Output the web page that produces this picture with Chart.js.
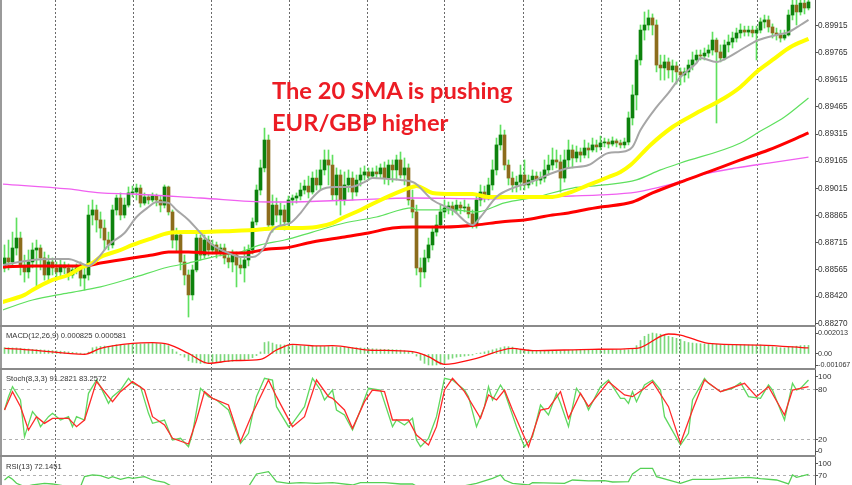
<!DOCTYPE html>
<html><head><meta charset="utf-8">
<script src="https://cdn.jsdelivr.net/npm/chart.js@4.4.0/dist/chart.umd.min.js"></script>
<style>
html,body{margin:0;padding:0;background:#fff;}
#wrap{position:relative;width:852px;height:485px;overflow:hidden;background:#fff;}
canvas{position:absolute;left:0;}
.sep{position:absolute;left:0;width:816px;height:2px;background:#8a8a8a;z-index:5;}
.lbl{position:absolute;left:6px;font-family:"Liberation Sans",Arial,sans-serif;font-size:7.6px;color:#333;line-height:9px;white-space:nowrap;z-index:6;}
.note{position:absolute;left:272px;font-family:Lato,sans-serif;font-weight:bold;font-size:23.7px;color:#ec1c24;line-height:22px;white-space:nowrap;z-index:7;}
</style></head>
<body><div id="wrap">
<div style="position:absolute;left:0;top:0;width:2px;height:485px;background:#9a9a9a;z-index:5"></div>
<canvas id="cMain" width="852" height="331" style="top:0"></canvas>
<canvas id="cMacd" width="852" height="44" style="top:327px"></canvas>
<canvas id="cStoch" width="852" height="85" style="top:370px"></canvas>
<canvas id="cRsi" width="852" height="28" style="top:457px"></canvas>
<div class="sep" style="top:325px"></div>
<div class="sep" style="top:368px"></div>
<div class="sep" style="top:455px"></div>
<div class="lbl" style="top:330.5px">MACD(12,26,9) 0.000825 0.000581</div>
<div class="lbl" style="top:374px">Stoch(8,3,3) 91.2821 83.2572</div>
<div class="lbl" style="top:461.5px">RSI(13) 72.1451</div>
<div class="note" style="top:79.3px">The 20 SMA is pushing</div>
<div class="note" style="top:110.8px">EUR/GBP higher</div>
</div>
<script>
// ---- candle data (EUR/GBP) ----
const candleOpen = [
0.88576,0.88631,0.88609,0.88686,0.88741,0.88592,0.88554,0.88609,0.88675,0.88686,
0.88631,0.88537,0.88609,0.88576,0.88554,0.88592,0.88576,0.88537,0.88565,0.88576,
0.88520,0.88537,0.88868,0.88896,0.88841,0.88796,0.88730,0.88703,0.88896,0.88962,
0.88868,0.88923,0.88990,0.88995,0.89017,0.88934,0.88968,0.88951,0.88973,0.88951,
0.88923,0.89023,0.88885,0.88730,0.88758,0.88609,0.88537,0.88427,0.88565,0.88741,
0.88647,0.88730,0.88675,0.88703,0.88664,0.88686,0.88631,0.88609,0.88647,0.88592,
0.88576,0.88620,0.88675,0.88830,0.89006,0.89128,0.89282,0.88813,0.88923,0.88868,
0.88896,0.88830,0.88951,0.88962,0.88973,0.89006,0.89028,0.88995,0.89072,0.89034,
0.89117,0.89172,0.89144,0.88979,0.89089,0.88951,0.89034,0.89072,0.88995,0.89061,
0.89089,0.89106,0.89083,0.89106,0.89095,0.89128,0.89072,0.89144,0.89117,0.89172,
0.89089,0.89128,0.88951,0.88885,0.88576,0.88554,0.88631,0.88703,0.88774,0.88813,
0.88885,0.88907,0.88918,0.88896,0.88923,0.88907,0.88912,0.88874,0.88813,0.88951,
0.88995,0.88979,0.89034,0.89117,0.89255,0.89310,0.89144,0.89072,0.89034,0.89050,
0.89089,0.89034,0.89061,0.89083,0.89061,0.89072,0.89117,0.89144,0.89172,0.89161,
0.89072,0.89172,0.89227,0.89183,0.89216,0.89199,0.89238,0.89227,0.89255,0.89244,
0.89266,0.89271,0.89260,0.89277,0.89266,0.89255,0.89271,0.89404,0.89531,0.89724,
0.89889,0.89917,0.89956,0.89917,0.89696,0.89680,0.89713,0.89669,0.89691,0.89658,
0.89641,0.89658,0.89696,0.89724,0.89751,0.89746,0.89762,0.89779,0.89834,0.89768,
0.89735,0.89807,0.89823,0.89845,0.89873,0.89889,0.89878,0.89889,0.89873,0.89889,
0.89934,0.89945,0.89906,0.89873,0.89862,0.89845,0.89862,0.89972,0.90027,0.89989,
0.90038,0.90011];
const candleHigh = [
0.88703,0.88730,0.88774,0.88852,0.88774,0.88647,0.88675,0.88714,0.88730,0.88703,
0.88664,0.88647,0.88631,0.88609,0.88620,0.88609,0.88598,0.88587,0.88598,0.88609,
0.88576,0.88923,0.88951,0.88923,0.88885,0.88841,0.88774,0.88923,0.88979,0.88990,
0.88962,0.89023,0.89028,0.89039,0.89034,0.88990,0.88979,0.88990,0.88984,0.88973,
0.89034,0.89028,0.88896,0.88796,0.88774,0.88647,0.88565,0.88592,0.88774,0.88758,
0.88758,0.88752,0.88730,0.88719,0.88708,0.88708,0.88664,0.88675,0.88664,0.88631,
0.88692,0.88703,0.88852,0.89034,0.89172,0.89348,0.89310,0.88979,0.88962,0.88934,
0.88923,0.88973,0.88979,0.88990,0.89045,0.89061,0.89083,0.89106,0.89117,0.89172,
0.89227,0.89227,0.89199,0.89128,0.89117,0.89106,0.89117,0.89106,0.89089,0.89128,
0.89139,0.89128,0.89128,0.89139,0.89150,0.89161,0.89172,0.89172,0.89199,0.89216,
0.89183,0.89150,0.89006,0.88923,0.88631,0.88675,0.88741,0.88807,0.88868,0.88923,
0.88951,0.88940,0.88940,0.88951,0.88940,0.88951,0.88929,0.88896,0.88973,0.89034,
0.89028,0.89072,0.89172,0.89293,0.89365,0.89337,0.89172,0.89106,0.89083,0.89144,
0.89172,0.89089,0.89117,0.89106,0.89106,0.89172,0.89199,0.89238,0.89227,0.89199,
0.89227,0.89282,0.89255,0.89249,0.89238,0.89282,0.89266,0.89293,0.89282,0.89304,
0.89293,0.89288,0.89299,0.89288,0.89282,0.89293,0.89437,0.89586,0.89751,0.89917,
0.89989,0.90000,0.89978,0.89945,0.89751,0.89751,0.89735,0.89724,0.89713,0.89680,
0.89680,0.89724,0.89768,0.89779,0.89779,0.89790,0.89807,0.89878,0.89845,0.89807,
0.89834,0.89862,0.89878,0.89900,0.89923,0.89911,0.89911,0.89911,0.89911,0.89956,
0.89972,0.89967,0.89923,0.89900,0.89889,0.89889,0.90000,0.90055,0.90066,0.90083,
0.90083,0.90083];
const candleLow = [
0.88554,0.88565,0.88592,0.88647,0.88537,0.88498,0.88520,0.88576,0.88465,0.88565,
0.88509,0.88498,0.88537,0.88509,0.88531,0.88543,0.88509,0.88520,0.88543,0.88476,
0.88454,0.88509,0.88813,0.88774,0.88741,0.88675,0.88675,0.88686,0.88868,0.88841,
0.88852,0.88912,0.88968,0.88951,0.88912,0.88923,0.88929,0.88940,0.88918,0.88885,
0.88907,0.88868,0.88686,0.88664,0.88565,0.88482,0.88305,0.88399,0.88554,0.88620,
0.88631,0.88642,0.88653,0.88631,0.88642,0.88598,0.88576,0.88554,0.88471,0.88543,
0.88498,0.88587,0.88653,0.88813,0.88979,0.89106,0.88785,0.88774,0.88830,0.88807,
0.88785,0.88807,0.88923,0.88934,0.88951,0.88984,0.88962,0.88984,0.89006,0.89006,
0.89089,0.89034,0.88951,0.88923,0.88868,0.88923,0.88995,0.88951,0.88973,0.89028,
0.89061,0.89061,0.89072,0.89072,0.89072,0.89039,0.89034,0.89050,0.89061,0.89072,
0.89034,0.88923,0.88852,0.88537,0.88471,0.88520,0.88609,0.88675,0.88752,0.88796,
0.88852,0.88874,0.88868,0.88879,0.88874,0.88885,0.88852,0.88796,0.88796,0.88918,
0.88940,0.88951,0.89006,0.89089,0.89227,0.89117,0.89034,0.88995,0.88995,0.89006,
0.89006,0.89017,0.89039,0.89028,0.89039,0.89050,0.89089,0.89117,0.89128,0.88995,
0.89050,0.89128,0.89128,0.89161,0.89161,0.89183,0.89183,0.89216,0.89216,0.89227,
0.89244,0.89238,0.89249,0.89244,0.89238,0.89238,0.89255,0.89365,0.89448,0.89696,
0.89834,0.89889,0.89862,0.89658,0.89613,0.89613,0.89624,0.89602,0.89591,0.89586,
0.89602,0.89624,0.89669,0.89713,0.89724,0.89724,0.89740,0.89751,0.89376,0.89713,
0.89724,0.89768,0.89790,0.89823,0.89845,0.89856,0.89856,0.89851,0.89724,0.89873,
0.89900,0.89878,0.89845,0.89834,0.89823,0.89834,0.89856,0.89945,0.89917,0.89972,
0.89978,0.90000];
const candleClose = [
0.88631,0.88609,0.88686,0.88741,0.88592,0.88554,0.88609,0.88675,0.88686,0.88631,
0.88537,0.88609,0.88576,0.88554,0.88592,0.88576,0.88537,0.88565,0.88576,0.88520,
0.88537,0.88868,0.88896,0.88841,0.88796,0.88730,0.88703,0.88896,0.88962,0.88868,
0.88923,0.88990,0.88995,0.89017,0.88934,0.88968,0.88951,0.88973,0.88951,0.88923,
0.89023,0.88885,0.88730,0.88758,0.88609,0.88537,0.88427,0.88565,0.88741,0.88647,
0.88730,0.88675,0.88703,0.88664,0.88686,0.88631,0.88609,0.88647,0.88592,0.88576,
0.88620,0.88675,0.88830,0.89006,0.89128,0.89282,0.88813,0.88923,0.88868,0.88896,
0.88830,0.88951,0.88962,0.88973,0.89006,0.89028,0.88995,0.89072,0.89034,0.89117,
0.89172,0.89144,0.88979,0.89089,0.88951,0.89034,0.89072,0.88995,0.89061,0.89089,
0.89106,0.89083,0.89106,0.89095,0.89128,0.89072,0.89144,0.89117,0.89172,0.89089,
0.89128,0.88951,0.88885,0.88576,0.88554,0.88631,0.88703,0.88774,0.88813,0.88885,
0.88907,0.88918,0.88896,0.88923,0.88907,0.88912,0.88874,0.88813,0.88951,0.88995,
0.88979,0.89034,0.89117,0.89255,0.89310,0.89144,0.89072,0.89034,0.89050,0.89089,
0.89034,0.89061,0.89083,0.89061,0.89072,0.89117,0.89144,0.89172,0.89161,0.89072,
0.89172,0.89227,0.89183,0.89216,0.89199,0.89238,0.89227,0.89255,0.89244,0.89266,
0.89271,0.89260,0.89277,0.89266,0.89255,0.89271,0.89404,0.89531,0.89724,0.89889,
0.89917,0.89956,0.89917,0.89696,0.89680,0.89713,0.89669,0.89691,0.89658,0.89641,
0.89658,0.89696,0.89724,0.89751,0.89746,0.89762,0.89779,0.89834,0.89768,0.89735,
0.89807,0.89823,0.89845,0.89873,0.89889,0.89878,0.89889,0.89873,0.89889,0.89934,
0.89945,0.89906,0.89873,0.89862,0.89845,0.89862,0.89972,0.90027,0.89989,0.90038,
0.90011,0.90044];

// ---- moving averages: [bar index, price] read at turning points ----
const maGray = [[-0.5,0.88592],[7,0.88620],[13,0.88625],[16,0.88625],[19,0.88603],[21,0.88587],[24,0.88647],[26,0.88703],[30,0.88769],[33,0.88857],[36,0.88912],[38,0.88940],[41,0.88935],[43,0.88896],[46,0.88841],[49,0.88769],[52,0.88703],[56,0.88658],[59,0.88636],[62,0.88636],[65,0.88692],[66.5,0.88769],[68,0.88802],[71.5,0.88824],[74,0.88879],[76.5,0.88951],[79,0.89006],[82.5,0.89023],[86.5,0.89023],[90,0.89050],[92,0.89073],[96,0.89067],[99,0.89062],[102.5,0.89045],[107,0.88951],[112,0.88896],[117,0.88813],[119,0.88857],[123,0.88968],[127,0.89017],[131.5,0.89050],[137,0.89100],[141,0.89128],[146,0.89144],[151,0.89211],[154,0.89216],[157,0.89244],[159,0.89337],[163,0.89464],[166,0.89542],[169,0.89630],[173,0.89707],[174,0.89735],[178,0.89713],[181,0.89740],[184,0.89779],[188.5,0.89834],[193,0.89862],[196,0.89878],[199,0.89917],[201,0.89945]];
const maYellow = [[-0.5,0.88388],[5,0.88427],[7,0.88454],[12,0.88510],[16,0.88537],[19,0.88576],[22,0.88603],[24,0.88636],[29,0.88675],[32,0.88703],[37,0.88741],[41,0.88769],[45,0.88774],[49,0.88774],[57,0.88780],[62,0.88785],[65,0.88791],[68,0.88796],[73,0.88796],[78,0.88802],[82,0.88824],[85,0.88857],[89,0.88896],[93,0.88940],[98,0.88990],[102,0.89023],[103,0.89028],[107,0.88990],[112,0.88984],[117,0.88984],[121,0.88968],[129,0.88968],[137,0.88968],[141,0.88990],[146,0.89034],[151,0.89078],[154,0.89106],[156.5,0.89144],[161.5,0.89255],[167,0.89354],[173,0.89431],[180,0.89514],[184,0.89575],[188,0.89658],[192,0.89724],[196.5,0.89796],[201,0.89840]];
const maGreen = [[-0.5,0.88344],[7,0.88399],[16,0.88438],[24,0.88471],[32,0.88521],[41,0.88581],[46,0.88603],[52,0.88636],[59,0.88664],[64,0.88703],[70,0.88730],[77,0.88774],[85,0.88824],[93,0.88857],[102,0.88907],[103,0.88896],[112,0.88896],[118,0.88885],[125,0.88935],[133,0.88968],[142,0.89017],[150,0.89034],[158,0.89062],[164,0.89117],[169,0.89155],[184,0.89266],[189,0.89332],[195,0.89409],[201,0.89514]];
const maRed = [[-0.5,0.88581],[7,0.88587],[20,0.88587],[24,0.88603],[32,0.88631],[37,0.88647],[41,0.88664],[46,0.88664],[52,0.88658],[60,0.88658],[62,0.88664],[66,0.88681],[70,0.88686],[77,0.88719],[85,0.88747],[91,0.88769],[97,0.88796],[102,0.88802],[110,0.88802],[118,0.88813],[124,0.88830],[130,0.88841],[137,0.88868],[141,0.88879],[146,0.88901],[149,0.88912],[157,0.88940],[162,0.88990],[169,0.89050],[176,0.89106],[184,0.89172],[191,0.89227],[201,0.89321]];
const maMagenta = [[-0.5,0.89039],[16,0.89012],[24,0.88990],[32,0.88984],[49,0.88962],[66,0.88940],[70,0.88940],[87,0.88951],[102,0.88962],[120,0.88957],[129,0.88962],[142,0.88973],[149,0.88979],[158,0.88995],[166,0.89034],[174,0.89089],[183,0.89128],[191,0.89155],[201,0.89188]];

// ---- MACD(12,26,9) ----
const macdHist = [
0.0006,0.0006,0.00058,0.00058,0.00055,0.0005,
0.00048,0.00045,0.00042,0.0004,0.00038,0.00036,0.00033,
0.0003,0.00027,0.00024,0.0002,0.00016,0.00012,0.00008,
0.00005,0.00018,0.0006,0.00068,0.00072,
0.00076,0.00074,0.00082,0.00088,0.00086,0.00088,0.00092,0.00094,
0.00098,0.00096,0.00098,0.001,0.00102,0.001,0.00096,
0.00094,0.0008,0.00045,0.0002,-0.0001,-0.0003,
-0.00065,-0.0008,-0.00085,-0.0009,
-0.00088,-0.00085,-0.00082,-0.0008,-0.00078,-0.00075,-0.00072,-0.0007,
-0.00065,-0.0006,-0.00058,-0.0005,-0.00035,-0.00015,
0.0002,0.0011,0.00118,0.00105,0.0009,0.00088,0.00086,0.00086,
0.00082,0.0008,0.00078,0.00078,0.00076,0.00074,0.00074,0.00074,0.00072,0.00072,0.0007,
0.00066,0.00064,0.00064,0.00062,0.0006,0.0006,0.00058,0.00056,
0.00052,0.0005,0.00048,0.00046,0.00045,0.00044,0.00042,0.0004,0.00038,
0.00032,0.00026,0.0002,-0.0002,-0.0006,
-0.0009,-0.00105,-0.001067,-0.00105,-0.001,-0.0009,
-0.0005,-0.0004,-0.0003,-0.00025,-0.0002,-0.00015,-0.0001,
0.00005,0.0001,0.0002,0.0003,0.0004,
0.0005,0.0006,0.0007,0.0007,0.00066,
0.0005,0.00045,0.0004,0.00038,0.00036,0.00034,0.00034,0.00034,0.00034,0.00034,0.00034,0.00032,0.00034,0.00036,0.00036,0.00036,0.00035,0.00035,0.00036,0.00036,
0.00038,0.00038,0.0004,0.0004,0.0004,0.0004,0.0004,0.0004,0.0004,0.0005,
0.0008,0.0013,0.0017,0.0019,0.002013,
0.00195,0.0019,0.0018,0.0017,0.0016,0.0015,0.0014,
0.0012,0.0011,0.00105,0.001,0.00098,0.00096,0.00094,0.00094,0.00094,0.0009,0.00088,0.00088,0.00088,0.00088,0.00088,0.00088,0.00086,0.00086,0.00086,0.00086,
0.0008,0.00075,0.0007,0.00065,0.0006,0.00058,
0.00065,0.0007,0.00075,0.0008,0.00082,0.000825];
const macdSignal = [[0,0.00054],[7,0.00038],[20,-0.00003],[24,0.00054],[32,0.00102],[37,0.00109],[41,0.00093],[46,0.00006],[51,-0.0009],[57,-0.00064],[64,-0.00051],[68,0.00038],[72,0.00093],[78,0.00077],[82,0.0008],[91,0.00038],[102,0.00022],[106,-0.00026],[110,-0.00099],[118,-0.00042],[127,0.00054],[132,0.00032],[147,0.00045],[158,0.00054],[166,0.00192],[169,0.00182],[176,0.00102],[189,0.00086],[201,0.000581]];

// ---- Stochastic(8,3,3) ----
const stochMain = [[0,55.2],[1,71.2],[2,83.2],[4,67.2],[5,23.2],[7,53.2],[8,47.2],[9,35.2],[11,47.2],[12,51.2],[14,43.2],[16,47.2],[17,35.2],[18,47.2],[20,43.2],[21,75.2],[23,91.2],[24,83.2],[26,63.2],[27,71.2],[29,79.2],[31,93.2],[32,87.2],[34,83.2],[36,51.2],[37,39.2],[40,43.2],[42,19.2],[44,21.2],[46,11.2],[47,27.2],[49,81.2],[51,71.2],[53,67.2],[56,55.2],[59,15.2],[61,27.2],[63,71.2],[65,93.2],[67,91.2],[68,59.2],[71,35.2],[72,39.2],[75,59.2],[77,93.2],[79,79.2],[80,67.2],[82,79.2],[83,55.2],[85,49.2],[87,31.2],[89,55.2],[91,81.2],[94,79.2],[97,35.2],[98,43.2],[100,37.2],[102,45.2],[103,19.2],[104,11.2],[106,21.2],[108,47.2],[110,93.2],[112,91.2],[115,79.2],[116,71.2],[118,35.2],[120,59.2],[121,83.2],[122,67.2],[124,85.2],[125,77.2],[128,35.2],[130,11.2],[132,23.2],[134,61.2],[136,49.2],[138,75.2],[139,63.2],[141,35.2],[143,81.2],[145,67.2],[146,55.2],[149,83.2],[151,91.2],[154,69.2],[155,69.2],[156,63.2],[157,77.2],[158,65.2],[160,85.2],[162,91.2],[164,79.2],[165,47.2],[169,13.2],[171,27.2],[172,67.2],[175,93.2],[176,87.2],[179,77.2],[182,81.2],[184,88],[186,71.2],[189,69.2],[191,85.2],[192,79.2],[195,43.2],[197,87.2],[198,79.2],[199,81.2],[201,91.28]];
const stochSignal = [[0,55.2],[2,77.2],[4,59.2],[6,31.2],[8,47.2],[10,39.2],[12,45.2],[16,45.2],[18,35.2],[20,43.2],[23,89.2],[27,65.2],[29,77.2],[32,89.2],[35,79.2],[37,47.2],[40,37.2],[42,21.2],[46,14.4],[48,43.2],[50,77.2],[52,69.2],[56,61.2],[59,17.2],[62,51.2],[66,91.2],[68,71.2],[72,35.2],[75,47.2],[78,91.2],[81,71.2],[82,69.2],[85,55.2],[87,33.2],[90,65.2],[92,79.2],[95,77.2],[97,43.2],[101,43.2],[103,25.2],[106,13.2],[108,35.2],[110,79.2],[112,93.2],[115,77.2],[119,45.2],[121,73.2],[123,67.2],[125,79.2],[127,55.2],[131,11.2],[134,55.2],[136,57.2],[139,77.2],[141,45.2],[144,75.2],[146,59.2],[151,89.2],[155,73.2],[157,71.2],[160,81.2],[162,89.2],[166,59.2],[169,15.2],[172,55.2],[175,91.2],[179,77.2],[185,87.2],[188,71.2],[191,83.2],[195,49.2],[197,79.2],[201,83.26]];

// ---- RSI(13) ----
const rsiLine = [[0,57.6],[1,66.5],[2,59.4],[3,48.8],[5,39.9],[7,44.3],[10,48.8],[12,47],[16,39.9],[19,39.9],[20,66.5],[22,70.9],[24,69.1],[26,62],[27,66.5],[29,59.4],[31,64.7],[32,62],[35,66.5],[37,57.6],[38,55],[40,51.4],[42,39.9],[46,31],[51,39.9],[56,39.9],[61,39.9],[63,73.5],[66,79.7],[67,66.5],[68,53.2],[71,48.8],[74,50.5],[78,48.8],[82,50.5],[87,44.3],[89,50.5],[95,50.5],[99,47],[102,47],[104,35.5],[106,31],[114,39.9],[118,48.8],[122,62],[124,70.9],[125,57.6],[127,48.8],[131,44.3],[132,50.5],[140,48.8],[142,57.6],[146,55],[150,55.8],[152,52.3],[156,53.2],[157,73.5],[159,88.6],[162,88.6],[163,66.5],[169,48.8],[172,59.4],[177,59.4],[181,62],[186,64.7],[189,61.1],[193,57.6],[196,47],[197,70.9],[198,64.7],[201,72.15]];

// ---- axis tick labels ----
const priceTicks = [0.88270,0.88420,0.88565,0.88715,0.88865,0.89015,0.89165,0.89315,0.89465,0.89615,0.89765,0.89915,0.90065];
const macdTicks = [0.002013,0,-0.001067];
const stochLevels = [80,20];
const rsiLevels = [70];
const gridBars = [12.625,32.125,51.625,71.125,90.625,110.125,129.625,149.125,168.625,188.125];

Chart.defaults.font.family = '"Liberation Sans", Arial, sans-serif';
const X_MIN = -0.375, X_MAX = 202.625;
const idx = candleOpen.map((_, i) => i);
const pts = arr => arr.map(p => ({x: p[0], y: p[1]}));

function xScale() {
  return {type:'linear', min:X_MIN, max:X_MAX, offset:false,
    afterBuildTicks: s => { s.ticks = gridBars.map(v => ({value:v})); },
    ticks:{display:false},
    grid:{color:'#6a6a6a', lineWidth:1, drawTicks:false, offset:false},
    border:{display:false, dash:[2,2]}};
}
function yScale(min, max, ticks, label, levelFn, fontSize) {
  return {position:'right', min, max, beginAtZero:false,
    afterBuildTicks: s => { s.ticks = ticks.map(v => ({value:v})); },
    afterFit: s => { s.width = 37; s.paddingTop = 0; s.paddingBottom = 0; },
    ticks:{autoSkip:false, padding:0, color:'#333', font:{size:fontSize || 8}, callback: label},
    grid:{drawOnChartArea: !!levelFn, color: levelFn || 'rgba(0,0,0,0)', drawTicks:true, tickLength:3, tickColor:'#555', tickWidth:1},
    border:{display:true, color:'#555', width:1, dash:[3,3]}};
}
function opts(y, padBottom) {
  return {responsive:false, animation:false, devicePixelRatio:1, events:[],
    layout:{padding:{left:3, right:0, top:0, bottom:padBottom}},
    plugins:{legend:{display:false}, tooltip:{enabled:false}},
    scales:{x:xScale(), y:y}};
}
function maLine(data, color, width, order) {
  return {type:'line', data: pts(data), borderColor:color, borderWidth:width, pointRadius:0,
    cubicInterpolationMode:'monotone', order, clip:0};
}

// main price chart
new Chart(document.getElementById('cMain'), {
  type:'bar',
  data:{datasets:[
    {type:'bar', data: idx.map(i => ({x:i, y:[candleLow[i], candleHigh[i]]})), backgroundColor:'#5fe05f', barThickness:1, grouped:false, order:5},
    {type:'bar', data: idx.map(i => ({x:i, y:[candleOpen[i], candleClose[i]]})),
      backgroundColor: idx.map(i => candleClose[i] >= candleOpen[i] ? '#0d820d' : '#8c6c1c'),
      barThickness:3, minBarLength:1, grouped:false, order:4},
    maLine(maMagenta, '#f060f0', 1.3, 3),
    maLine(maGreen, '#5ee05e', 1.2, 2.5),
    maLine(maRed, '#ff0000', 3, 2),
    maLine(maYellow, '#ffff00', 4, 1),
    maLine(maGray, '#a6a6a6', 2, 0)
  ]},
  options: opts(yScale(0.88261, 0.90055, priceTicks, v => Number(v).toFixed(5), null, 8.2), 6)
});

// MACD
new Chart(document.getElementById('cMacd'), {
  type:'bar',
  data:{datasets:[
    {type:'bar', data: idx.map(i => ({x:i, y:macdHist[i]})), backgroundColor:'#7bd87b', barThickness:1, grouped:false, order:2},
    {type:'line', data: pts(macdSignal), borderColor:'#ff1010', borderWidth:1.3, pointRadius:0, cubicInterpolationMode:'monotone', order:1, clip:0}
  ]},
  options: opts(yScale(-0.001343, 0.002589, macdTicks, v => v === 0 ? '0.00' : String(v), null, 7.2), 3)
});

// Stochastic
const stochLabelTicks = [95.2, stochLevels[0], stochLevels[1], 6];
new Chart(document.getElementById('cStoch'), {
  type:'line',
  data:{datasets:[
    {data: pts(stochMain), borderColor:'#5fd85f', borderWidth:1.3, pointRadius:0, order:1},
    {data: pts(stochSignal), borderColor:'#ff2a2a', borderWidth:1.3, pointRadius:0, order:0}
  ]},
  options: opts(yScale(1.2, 103.2, stochLabelTicks,
      v => v > 90 ? '100' : (v < 10 ? '0' : String(v)),
      c => (c.tick && stochLevels.includes(c.tick.value)) ? '#b0b0b0' : 'rgba(0,0,0,0)', 8), 0)
});

// RSI
new Chart(document.getElementById('cRsi'), {
  type:'line',
  data:{datasets:[
    {data: pts(rsiLine), borderColor:'#55d055', borderWidth:1.3, pointRadius:0}
  ]},
  options: opts(yScale(44.3, 118.5, [100, rsiLevels[0]], v => String(v),
      c => (c.tick && rsiLevels.includes(c.tick.value)) ? '#b0b0b0' : 'rgba(0,0,0,0)', 8), 0)
});
</script>
</body></html>
